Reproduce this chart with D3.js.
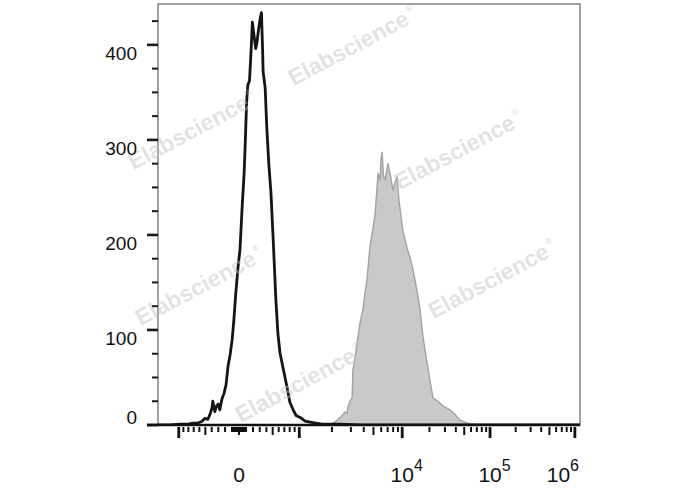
<!DOCTYPE html>
<html>
<head>
<meta charset="utf-8">
<script src="https://cdn.jsdelivr.net/npm/d3@7"></script>
<style>
  html, body { margin: 0; padding: 0; background: #fff; }
  svg { display: block; }
</style>
</head>
<body>
<div id="chart"></div>
<script>
// ---------------- DATA ----------------
// Histogram channels (0-1024 logicle display channels) and event counts
const blackChannels = [0, 29, 53, 73, 85, 97, 107, 114, 121, 126, 131, 133, 138, 141, 146, 150, 155, 160, 165, 170, 175, 180, 184, 189, 194, 199, 204, 209, 212, 215, 218, 222, 226, 229, 233, 237, 240, 243, 248, 251, 254, 255, 260, 264, 269, 274, 279, 286, 291, 296, 303, 313, 320, 328, 335, 345, 357, 369, 383, 398, 442, 490, 1024];
const blackCounts   = [0, 0, 1, 1, 2, 2, 4, 7, 6, 11, 18, 25, 14, 19, 22, 16, 27, 33, 42, 62, 74, 90, 110, 140, 165, 185, 228, 265, 300, 340, 358, 362, 395, 424, 410, 396, 402, 413, 428, 434, 392, 372, 355, 313, 274, 245, 200, 132, 96, 76, 61, 40, 24, 16, 10, 8, 4, 3, 2, 1, 1, 0, 0];

const grayChannels = [405, 417, 429, 442, 449, 454, 459, 461, 466, 471, 473, 478, 483, 490, 497, 502, 507, 514, 522, 527, 531, 534, 539, 541, 544, 547, 551, 556, 558, 563, 565, 570, 575, 580, 585, 587, 594, 604, 611, 619, 628, 636, 643, 653, 660, 667, 672, 677, 684, 692, 696, 704, 709, 721, 733, 745, 757, 781];
const grayCounts   = [0, 0, 3, 8, 11, 14, 12, 19, 25, 29, 58, 70, 86, 107, 121, 138, 152, 187, 208, 223, 247, 265, 258, 280, 287, 262, 258, 270, 275, 265, 260, 247, 255, 261, 235, 229, 205, 187, 177, 163, 142, 121, 93, 65, 47, 29, 27, 26, 23, 20, 19, 17, 16, 11, 5, 3, 1, 0];

// Axis values
const yMajorTicks = [0, 100, 200, 300, 400];
const yMinorTicks = [25, 50, 75, 125, 150, 175, 225, 250, 275, 325, 350, 375, 425];
const xLabelTicks = [
  { value: 0, base: "0", exp: "" },
  { value: 1e4, base: "10", exp: "4" },
  { value: 1e5, base: "10", exp: "5" },
  { value: 1e6, base: "10", exp: "6" }
];
const xMultipliers = [1, 2, 3, 4, 5, 6, 7, 8, 9];
const xPositiveDecades = [10, 100, 1000, 10000, 100000];
const xNegativeDecades = [10, 100];
const watermarkText = "Elabscience";
const watermarkCenters = [[196, 137], [356, 53], [462, 157], [203, 293], [496, 286], [303, 390]];

// ---------------- LOGICLE TRANSFORM ----------------
const logicleParams = { T: 1.15e6, W: 0.96, M: 5.0, A: 0 };
function makeLogicle({ T, W, M, A }) {
  const w = W / M, x2 = A / M, x1 = x2 + w, x0 = x2 + 2 * w, b = (M + A) * Math.LN10;
  let lo = 1e-9, hi = b;
  for (let i = 0; i < 200; i++) {
    const mid = (lo + hi) / 2;
    const fv = 2 * (Math.log(mid) - Math.log(b)) + w * (b + mid);
    if (fv > 0) hi = mid; else lo = mid;
  }
  const d = (lo + hi) / 2;
  const ca = Math.exp(x0 * (b + d));
  const fa = Math.exp(b * x1) - ca / Math.exp(d * x1);
  const a = T / (Math.exp(b) - fa - ca / Math.exp(d));
  const c = ca * a, f = -fa * a;
  function S(y) {
    if (y >= x1) return a * Math.exp(b * y) - c * Math.exp(-d * y) + f;
    return -S(2 * x1 - y);
  }
  return function (v) {
    let l = -1, h = 2;
    for (let i = 0; i < 200; i++) {
      const m = (l + h) / 2;
      if (S(m) < v) l = m; else h = m;
    }
    return (l + h) / 2;
  };
}
const logicle = makeLogicle(logicleParams);
const toChannel = v => logicle(v) * 1024;

// ---------------- LAYOUT ----------------
const W = 688, H = 490;
const plot = { left: 158, right: 580, top: 4, bottom: 425 };

const svg = d3.select("#chart").append("svg")
  .attr("width", W).attr("height", H)
  .style("font-family", "'Liberation Sans', Arial, Helvetica, sans-serif");

const x = d3.scaleLinear().domain([0, 1024]).range([plot.left, plot.right]);
const y = d3.scaleLinear().domain([0, 443]).range([plot.bottom, plot.top]);

svg.append("defs").append("clipPath").attr("id", "plotclip")
  .append("rect")
  .attr("x", plot.left).attr("y", plot.top)
  .attr("width", plot.right - plot.left).attr("height", plot.bottom - plot.top);

// Frame
svg.append("rect")
  .attr("x", plot.left).attr("y", plot.top)
  .attr("width", plot.right - plot.left).attr("height", plot.bottom - plot.top)
  .attr("fill", "none").attr("stroke", "#858585").attr("stroke-width", 1.5);

const g = svg.append("g").attr("clip-path", "url(#plotclip)");

// Gray filled histogram
const grayData = grayChannels.map((c, i) => [c, grayCounts[i]]);
g.append("path")
  .datum(grayData)
  .attr("d", d3.area().x(d => x(d[0])).y0(y(0)).y1(d => y(d[1])))
  .attr("fill", "#c9c9c9")
  .attr("stroke", "#a3a3a3")
  .attr("stroke-width", 1.4)
  .attr("stroke-linejoin", "round");

// Black outline histogram
const blackData = blackChannels.map((c, i) => [c, blackCounts[i]]);
g.append("path")
  .datum(blackData)
  .attr("d", d3.line().x(d => x(d[0])).y(d => y(d[1])))
  .attr("fill", "none")
  .attr("stroke", "#141414")
  .attr("stroke-width", 2.8)
  .attr("stroke-linejoin", "round");

// Watermarks
const wm = svg.append("g").attr("pointer-events", "none");
watermarkCenters.forEach(([cx, cy]) => {
  const t = wm.append("text")
    .attr("transform", `translate(${cx},${cy}) rotate(-28)`)
    .attr("text-anchor", "middle")
    .attr("font-size", 23)
    .attr("font-weight", "bold")
    .attr("fill", "rgba(195,195,195,0.48)");
  t.append("tspan").text(watermarkText);
  t.append("tspan").attr("font-size", 9).attr("dy", -12).attr("dx", 2).text("®");
});

// Y axis ticks
const yAxisG = svg.append("g");
yAxisG.selectAll("line.ymajor").data(yMajorTicks).join("line")
  .attr("x1", 147).attr("x2", plot.left)
  .attr("y1", d => y(d)).attr("y2", d => y(d))
  .attr("stroke", "#1a1a1a").attr("stroke-width", 2.6);
yAxisG.selectAll("line.yminor").data(yMinorTicks).join("line")
  .attr("x1", 152).attr("x2", plot.left)
  .attr("y1", d => y(d)).attr("y2", d => y(d))
  .attr("stroke", "#1a1a1a").attr("stroke-width", 2);
yAxisG.selectAll("text").data(yMajorTicks).join("text")
  .attr("x", 137)
  .attr("y", d => y(d) + (d === 0 ? -1 : 15))
  .attr("text-anchor", "end")
  .attr("font-size", 19)
  .attr("fill", "#111")
  .text(d => d);

// X axis line
svg.append("line")
  .attr("x1", 147).attr("x2", plot.right)
  .attr("y1", plot.bottom).attr("y2", plot.bottom)
  .attr("stroke", "#111").attr("stroke-width", 2.6);

// X ticks (logicle)
const xTicks = [];
xPositiveDecades.forEach(dec => xMultipliers.forEach(m => xTicks.push(m * dec)));
xNegativeDecades.forEach(dec => xMultipliers.forEach(m => xTicks.push(-m * dec)));
xTicks.push(0, -1000, 1e6);
const isLong = v => [1000, 1e4, 1e5, 1e6].includes(Math.abs(v));
const isMed = v => v === 0 || [500, 5000, 50000, 500000].includes(Math.abs(v));
svg.append("g").selectAll("line").data(xTicks.filter(v => {
    const px = x(toChannel(v)); return px >= plot.left && px <= plot.right;
  })).join("line")
  .attr("x1", d => x(toChannel(d))).attr("x2", d => x(toChannel(d)))
  .attr("y1", 427)
  .attr("y2", d => isLong(d) ? 438 : isMed(d) ? 435 : 432)
  .attr("stroke", "#111")
  .attr("stroke-width", d => isLong(d) ? 2.8 : 2);

// X labels
const xl = svg.append("g");
xLabelTicks.forEach(t => {
  const px = x(toChannel(t.value));
  const txt = xl.append("text")
    .attr("y", 482)
    .attr("font-size", 21)
    .attr("fill", "#111");
  txt.append("tspan").text(t.base);
  if (t.exp) txt.append("tspan").attr("font-size", 16).attr("dy", -11).text(t.exp);
  const baseW = txt.select("tspan").node().getComputedTextLength();
  const totalW = txt.node().getComputedTextLength();
  let left = px - baseW / 2;
  if (left + totalW > plot.right - 1) left = plot.right - 1 - totalW;
  txt.attr("x", left);
});
</script>
</body>
</html>
